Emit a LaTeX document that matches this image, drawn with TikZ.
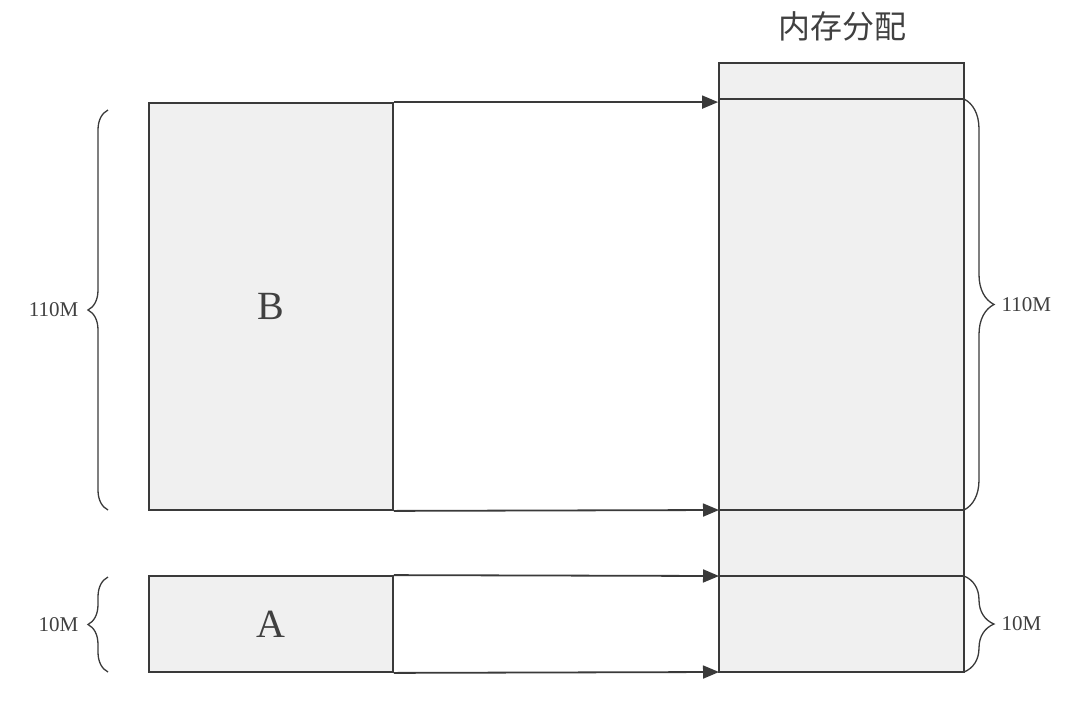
\documentclass[tikz,border=0pt]{standalone}
\usepackage{fontspec}
\setmainfont{Liberation Serif}
\newfontfamily\cjk{Noto Sans CJK SC}
\usetikzlibrary{decorations.pathreplacing,arrows.meta}
\definecolor{ln}{HTML}{3A3A3A}
\definecolor{fl}{HTML}{F0F0F0}
\definecolor{tx}{HTML}{404040}
\tikzset{
  blk/.style={draw=ln, fill=fl, line width=1.8pt, inner sep=0pt, text=tx, font=\fontsize{40}{44}\selectfont},
  arr/.style={draw=ln, line width=1.8pt, -{Triangle[length=16pt,width=13pt]}},
  sep/.style={draw=ln, line width=1.8pt},
  brl/.style={draw=ln, line width=1.3pt, decorate, decoration={brace, amplitude=#1}},
  lbl/.style={text=tx, font=\fontsize{21}{23}\selectfont, inner sep=0pt}
}
\begin{document}
\begin{tikzpicture}[x=1pt,y=-1pt]
\useasboundingbox (0,0) rectangle (1090,702);
% memory column
\node[blk, minimum width=245pt, minimum height=609pt] (mem) at (841.5,367.5) {};
\coordinate (m1) at (719,99);
\coordinate (m1e) at (964,99);
\coordinate (m2) at (719,510);
\coordinate (m2e) at (964,510);
\coordinate (m3) at (719,576);
\coordinate (m3e) at (964,576);
\coordinate (m4) at (719,672);
\coordinate (m4e) at (964,672);
\draw[sep] (m1) -- (m1e);
\draw[sep] (m2) -- (m2e);
\draw[sep] (m3) -- (m3e);
\node[text=tx, font=\cjk\fontsize{32}{34}\selectfont] (title) at (842,26) {内存分配};
% process blocks
\node[blk, minimum width=244pt, minimum height=407pt] (B) at (271,306.5) {B};
\node[blk, minimum width=244pt, minimum height=96pt] (A) at (271,624) {A};
% arrows
\draw[arr] (B.north east) -- (B.north east -| mem.west);
\draw[arr] (B.south east) -- (m2);
\draw[arr] (A.north east) -- (m3);
\draw[arr] (A.south east) -- (m4);
% left braces
\coordinate (lb1) at (108,510);
\coordinate (lb2) at (108,110);
\draw[brl=20pt] (lb1) -- node[lbl, left=29pt] (l110) {110M} (lb2);
\coordinate (lb3) at (108,672);
\coordinate (lb4) at (108,577);
\draw[brl=20pt] (lb3) -- node[lbl, left=29pt] (l10) {10M} (lb4);
% right braces
\draw[brl=30pt] (m1e) -- node[lbl, right=37pt] (r110) {110M} (m2e);
\draw[brl=30pt] (m3e) -- node[lbl, right=37pt] (r10) {10M} (m4e);
\end{tikzpicture}
\end{document}
